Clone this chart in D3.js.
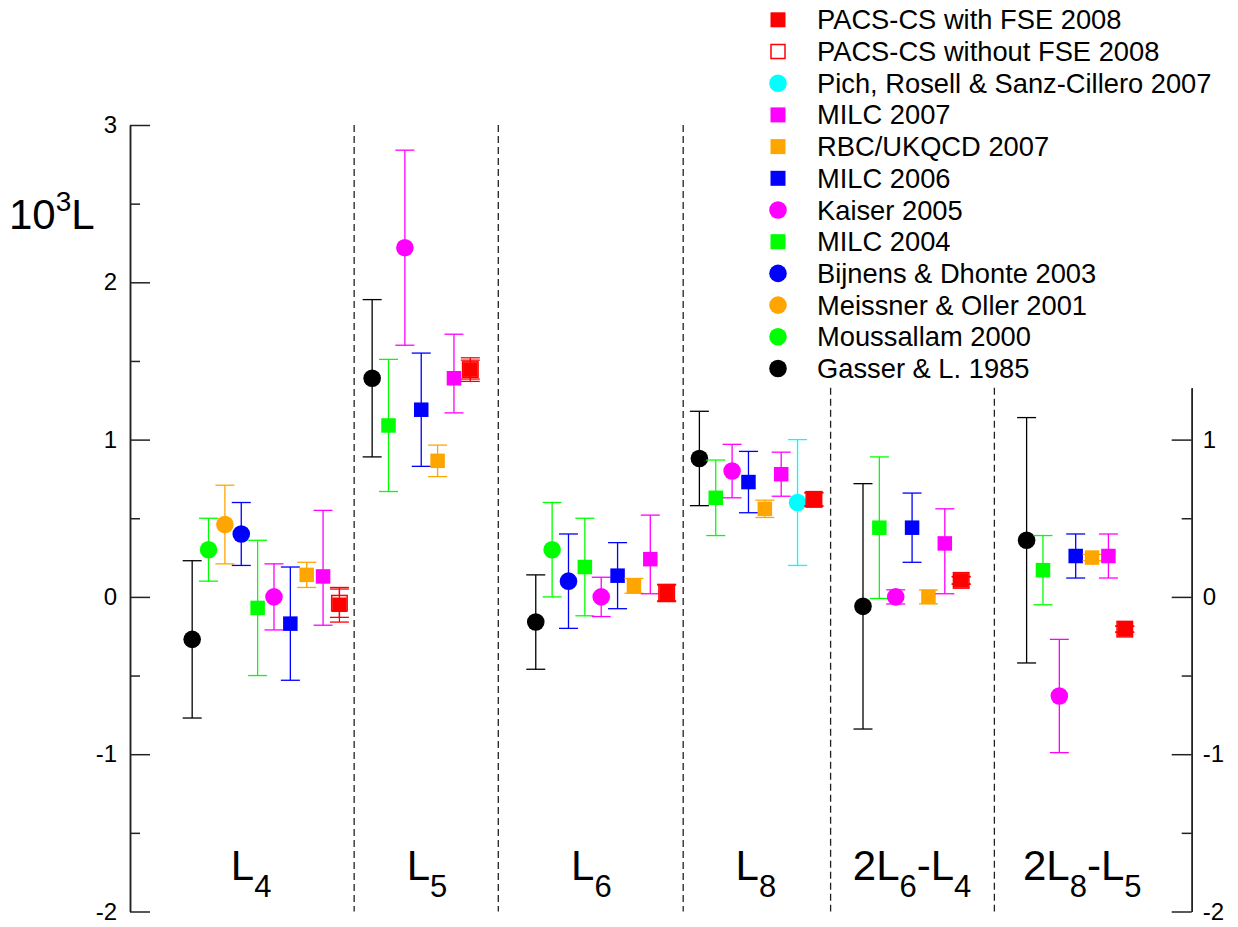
<!DOCTYPE html>
<html>
<head>
<meta charset="utf-8">
<script src="https://cdn.jsdelivr.net/npm/d3@7"></script>
<style>
  body { margin: 0; background: #fff; }
  svg { display: block; }
  text { font-family: "Liberation Sans", Arial, Helvetica, sans-serif; fill: #000; }
</style>
</head>
<body>
<svg id="chart" width="1238" height="927"></svg>
<script>
// Low-energy constants, in units of 10^-3, grouped by combination
const groups = ["L4", "L5", "L6", "L8", "2L6-L4", "2L8-L5"];

const gasser        = [-0.27, 1.39, -0.16, 0.88, -0.06, 0.36];
const gasserErr     = [0.50, 0.50, 0.30, 0.30, 0.78, 0.78];

const moussallam    = [0.30, null, 0.30, null, null, null];
const moussallamErr = [0.20, null, 0.30, null, null, null];

const meissner      = [0.46, null, null, null, null, null];
const meissnerErr   = [0.25, null, null, null, null, null];

const bijnens       = [0.40, null, 0.10, null, null, null];
const bijnensErr    = [0.20, null, 0.30, null, null, null];

const milc04        = [-0.07, 1.09, 0.19, 0.63, 0.44, 0.17];
const milc04Err     = [0.43, 0.42, 0.31, 0.24, 0.45, 0.22];

const kaiser        = [0.00, 2.22, 0.00, 0.80, 0.00, -0.63];
const kaiserErr     = [0.21, 0.62, 0.125, 0.17, 0.045, 0.36];

const milc06        = [-0.17, 1.19, 0.135, 0.73, 0.44, 0.26];
const milc06Err     = [0.36, 0.36, 0.21, 0.195, 0.22, 0.14];

const rbc           = [0.14, 0.865, 0.07, 0.56, 0.00, 0.25];
const rbcErr        = [0.08, 0.10, 0.047, 0.055, 0.044, 0.02];

const milc07        = [0.13, 1.39, 0.24, 0.78, 0.34, 0.26];
const milc07ErrUp   = [0.42, 0.28, 0.28, 0.14, 0.22, 0.14];
const milc07ErrDown = [0.31, 0.22, 0.22, 0.14, 0.32, 0.14];

const pich          = [null, null, null, 0.60, null, null];
const pichErr       = [null, null, null, 0.40, null, null];

const pacsNoFse     = [-0.04, 1.445, 0.025, 0.62, 0.105, -0.205];
const pacsNoFseErr  = [0.09, 0.06, 0.05, 0.04, 0.022, 0.018];

const pacsFse       = [-0.05, 1.445, 0.025, 0.62, 0.105, -0.205];
const pacsFseErr    = [0.11, 0.075, 0.055, 0.045, 0.025, 0.02];

const leftTicks  = [-2, -1, 0, 1, 2, 3];
const rightTicks = [-2, -1, 0, 1];

// Series in drawing order; "slot" names the horizontal position a result takes in its group
const series = [
  { name: "Gasser & L. 1985",        v: gasser,     up: gasserErr,     dn: gasserErr,     color: "#000000", shape: "circle", slot: "gl" },
  { name: "Moussallam 2000",         v: moussallam, up: moussallamErr, dn: moussallamErr, color: "#00ff00", shape: "circle", slot: "mo" },
  { name: "Meissner & Oller 2001",   v: meissner,   up: meissnerErr,   dn: meissnerErr,   color: "#ffa500", shape: "circle", slot: "me" },
  { name: "Bijnens & Dhonte 2003",   v: bijnens,    up: bijnensErr,    dn: bijnensErr,    color: "#0000ff", shape: "circle", slot: "bd" },
  { name: "MILC 2004",               v: milc04,     up: milc04Err,     dn: milc04Err,     color: "#00ff00", shape: "square", slot: "m4" },
  { name: "Kaiser 2005",             v: kaiser,     up: kaiserErr,     dn: kaiserErr,     color: "#ff00ff", shape: "circle", slot: "ka" },
  { name: "MILC 2006",               v: milc06,     up: milc06Err,     dn: milc06Err,     color: "#0000ff", shape: "square", slot: "m6" },
  { name: "RBC/UKQCD 2007",          v: rbc,        up: rbcErr,        dn: rbcErr,        color: "#ffa500", shape: "square", slot: "rb" },
  { name: "MILC 2007",               v: milc07,     up: milc07ErrUp,   dn: milc07ErrDown, color: "#ff00ff", shape: "square", slot: "m7" },
  { name: "Pich, Rosell & Sanz-Cillero 2007", v: pich, up: pichErr,    dn: pichErr,       color: "#00ffff", shape: "circle", slot: "pi" },
  { name: "PACS-CS without FSE 2008", v: pacsNoFse, up: pacsNoFseErr,  dn: pacsNoFseErr,  color: "#ff0000", shape: "open",   slot: "pc" },
  { name: "PACS-CS with FSE 2008",   v: pacsFse,    up: pacsFseErr,    dn: pacsFseErr,    color: "#ff0000", shape: "square", slot: "pc" }
];

const legendOrder = [
  "PACS-CS with FSE 2008", "PACS-CS without FSE 2008", "Pich, Rosell & Sanz-Cillero 2007",
  "MILC 2007", "RBC/UKQCD 2007", "MILC 2006", "Kaiser 2005", "MILC 2004",
  "Bijnens & Dhonte 2003", "Meissner & Oller 2001", "Moussallam 2000", "Gasser & L. 1985"
];

// ---- layout (slot units along x) ----
const groupStart  = [0, 11, 21, 31, 41, 51];
const labelCenter = [3.6, 14.35, 24.4, 34.45, 44.0, 54.4];
const separators  = [
  { s: 9.9,  top: 3 }, { s: 18.71, top: 3 }, { s: 30.01, top: 3 },
  { s: 39.02, top: 1.33 }, { s: 49.03, top: 1.33 }
];

const svg = d3.select("#chart");
const x = d3.scaleLinear().domain([-3.8, 61.09]).range([130, 1191.7]);
const y = d3.scaleLinear().domain([-2, 3]).range([911.5, 125]);
const rightTop = 1.33;
const yR = d3.scaleLinear().domain([-2, rightTop]).range([y(-2), y(rightTop)]);

const axisColor = "#222";
const plainNum = d => String(d);   // hyphen-minus, as typeset on the axes

// left axis: ticks point inward, labels outside
const gl = svg.append("g").attr("transform", `translate(${x.range()[0]},0)`);
gl.call(d3.axisLeft(y).tickValues(leftTicks).tickFormat(plainNum)
  .tickSizeInner(-20).tickSizeOuter(0).tickPadding(13));
const glm = svg.append("g").attr("transform", `translate(${x.range()[0]},0)`);
glm.call(d3.axisLeft(y).tickValues([-1.5, -0.5, 0.5, 1.5, 2.5]).tickFormat("")
  .tickSizeInner(-10).tickSizeOuter(0));

// right axis
const gr = svg.append("g").attr("transform", `translate(${x.range()[1]},0)`);
gr.call(d3.axisRight(yR).tickValues(rightTicks).tickFormat(plainNum)
  .tickSizeInner(-20).tickSizeOuter(0).tickPadding(11));
const grm = svg.append("g").attr("transform", `translate(${x.range()[1]},0)`);
grm.call(d3.axisRight(yR).tickValues([-1.5, -0.5, 0.5]).tickFormat("")
  .tickSizeInner(-10).tickSizeOuter(0));

[gl, glm, gr, grm].forEach(g => {
  g.selectAll("path.domain").attr("stroke", axisColor).attr("stroke-width", 1.5);
  g.selectAll(".tick line").attr("stroke", axisColor).attr("stroke-width", 1.5);
  g.selectAll(".tick text").attr("font-size", 24)
    .attr("font-family", '"Liberation Sans", Arial, sans-serif').attr("fill", "#000");
});

// dashed group separators
svg.append("g").selectAll("line").data(separators).join("line")
  .attr("x1", d => x(d.s)).attr("x2", d => x(d.s))
  .attr("y1", d => y(d.top)).attr("y2", y(-2))
  .attr("stroke", "#222").attr("stroke-width", 1.3).attr("stroke-dasharray", "7,4");

// y axis title 10^3 L
const yt = svg.append("text").attr("x", 9).attr("y", 229).attr("font-size", 42);
yt.append("tspan").text("10");
yt.append("tspan").attr("font-size", 28).attr("dy", -18).text("3");
yt.append("tspan").attr("dy", 18).text("L");

// group labels: a digit right after "L" is a subscript
groups.forEach((g, gi) => {
  const t = svg.append("text").attr("x", x(labelCenter[gi])).attr("y", 880)
    .attr("text-anchor", "middle").attr("font-size", 42);
  let shifted = false;
  [...g].forEach((ch, i) => {
    const isSub = /\d/.test(ch) && i > 0 && g[i - 1] === "L";
    const sp = t.append("tspan").text(ch);
    if (isSub && !shifted) { sp.attr("font-size", 31).attr("dy", 17); shifted = true; }
    else if (isSub) { sp.attr("font-size", 31); }
    else if (shifted) { sp.attr("dy", -17); shifted = false; }
  });
});

// data points with error bars
const R = 8.8, SQ = 14.5, CAP = 9.5;
const plot = svg.append("g");
groups.forEach((g, gi) => {
  const slots = [];
  series.forEach(s => {
    if (s.v[gi] == null) return;
    if (!slots.includes(s.slot)) slots.push(s.slot);
  });
  series.forEach(s => {
    const val = s.v[gi];
    if (val == null) return;
    const cx = x(groupStart[gi] + slots.indexOf(s.slot));
    const yTop = y(val + s.up[gi]), yBot = y(val - s.dn[gi]), cy = y(val);
    const gg = plot.append("g").attr("stroke", s.color).attr("stroke-width", 1.3);
    gg.append("line").attr("x1", cx).attr("x2", cx).attr("y1", yTop).attr("y2", yBot);
    gg.append("line").attr("x1", cx - CAP).attr("x2", cx + CAP).attr("y1", yTop).attr("y2", yTop);
    gg.append("line").attr("x1", cx - CAP).attr("x2", cx + CAP).attr("y1", yBot).attr("y2", yBot);
    if (s.shape === "circle") {
      gg.append("circle").attr("cx", cx).attr("cy", cy).attr("r", R)
        .attr("fill", s.color).attr("stroke", "none");
    } else if (s.shape === "square") {
      gg.append("rect").attr("x", cx - SQ / 2).attr("y", cy - SQ / 2)
        .attr("width", SQ).attr("height", SQ)
        .attr("fill", s.color).attr("stroke", "none");
    } else {
      gg.append("rect").attr("x", cx - SQ / 2 - 0.5).attr("y", cy - SQ / 2 - 0.5)
        .attr("width", SQ + 1).attr("height", SQ + 1)
        .attr("fill", "#fff").attr("stroke-width", 1.5);
    }
  });
});

// legend
const legend = svg.append("g");
legendOrder.forEach((name, i) => {
  const s = series.find(d => d.name === name);
  const base = 29.3 + i * 31.7;
  const my = base - 9.5, mx = 778;
  if (s.shape === "circle") {
    legend.append("circle").attr("cx", mx).attr("cy", my).attr("r", R).attr("fill", s.color);
  } else if (s.shape === "square") {
    legend.append("rect").attr("x", mx - 7.5).attr("y", my - 7.5).attr("width", 15).attr("height", 15)
      .attr("fill", s.color);
  } else {
    legend.append("rect").attr("x", mx - 7).attr("y", my - 7).attr("width", 14).attr("height", 14)
      .attr("fill", "#fff").attr("stroke", s.color).attr("stroke-width", 1.5);
  }
  legend.append("text").attr("x", 817).attr("y", base).attr("font-size", 27.3).text(name);
});
</script>
</body>
</html>
